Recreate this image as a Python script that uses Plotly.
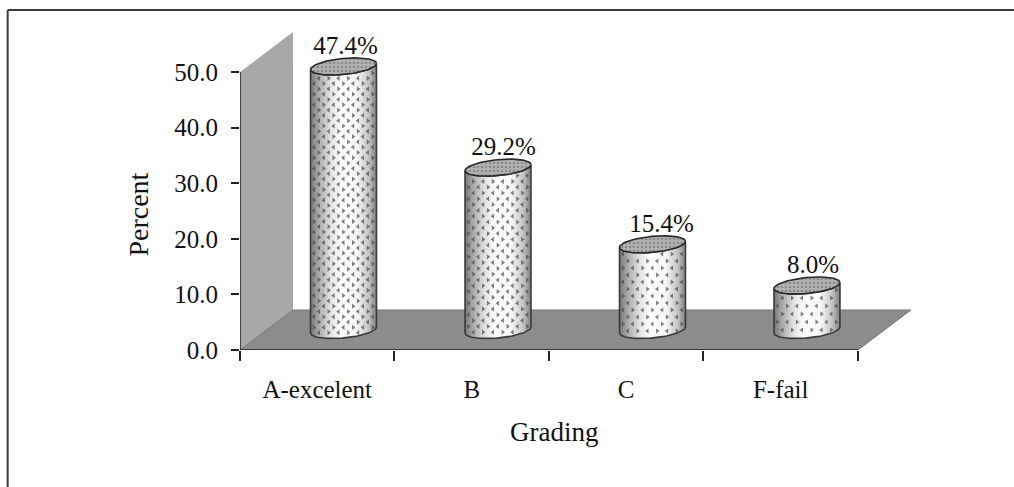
import numpy as np
import plotly.graph_objects as go

categories = ["A-excelent", "B", "C", "F-fail"]
values = [47.4, 29.2, 15.4, 8.0]
labels = ["47.4%", "29.2%", "15.4%", "8.0%"]
y_ticks = [0, 10, 20, 30, 40, 50]
y_tick_labels = ["0.0", "10.0", "20.0", "30.0", "40.0", "50.0"]

W, H = 1014, 487
L, R, T, B = 239.5, 915, 25, 350
PX_CAT = 154.6
PX_UNIT = 5.56
x0 = -0.5
x1 = x0 + (R - L) / PX_CAT
y1 = (B - T) / PX_UNIT
depth_x = 53 / PX_CAT
depth_y = 40 / PX_UNIT
xe = len(categories) - 0.5

base = 3.6
shift = 0.17
a = 33 / PX_CAT
b = 8 / PX_UNIT
tilt = 3 / PX_UNIT
FONT = "Liberation Serif"
TEXT = "#111111"

# texture of the cylinder walls: vertical row spacing (px) per cylinder, label nudges (px)
row_px = [5.3, 5.8, 7.0, 8.0]
col_px = 9.8
label_dx_px = [2, 5.5, 9, 6]


def rim(xs, centre_y, cx, lower):
    """y of the upper or lower edge of a tilted ellipse at data x positions."""
    c = np.clip((xs - cx) / a, -1, 1)
    s = np.sqrt(1 - c ** 2)
    return centre_y + tilt * c + (-b * s if lower else b * s)


fig = go.Figure()
t_low = np.linspace(np.pi, 2 * np.pi, 40)
t_all = np.linspace(0, 2 * np.pi, 80)
grad = [[0, "#787878"], [0.12, "#a8a8a8"], [0.3, "#e2e2e2"], [0.47, "#ffffff"], [0.7, "#f8f8f8"],
        [0.88, "#c4c4c4"], [1, "#808080"]]

for i, v in enumerate(values):
    cx = i + shift
    top = base + v
    bx = cx + a * np.cos(t_low)
    by = base + b * np.sin(t_low) + tilt * np.cos(t_low)
    tx = bx[::-1]
    ty = top + b * np.sin(t_low[::-1]) + tilt * np.cos(t_low[::-1])
    sx = np.concatenate([bx, tx, bx[:1]])
    sy = np.concatenate([by, ty, by[:1]])
    fig.add_trace(go.Scatter(x=sx, y=sy, mode="lines", fill="toself",
                             line=dict(color="#3a3a3a", width=1.6),
                             fillgradient=dict(type="horizontal", colorscale=grad),
                             hoverinfo="skip", showlegend=False))

    # staggered little chevrons of the texture, kept inside the wall
    dy = row_px[i] / PX_UNIT
    dx = col_px / PX_CAT
    for symbol, phase in (("triangle-left", 0), ("triangle-right", 1)):
        gx, gy = [], []
        rows = np.arange(base - b, top + b, dy)
        for r, yy in enumerate(rows):
            off = dx / 2 if r % 2 else 0
            cols = np.arange(cx - a + dx * 0.35 + off, cx + a - dx * 0.2, dx)
            for k, xx in enumerate(cols):
                if (r // 2 + k) % 2 != phase:
                    continue
                lo = rim(np.array([xx]), base, cx, True)[0] + 1.5 / PX_UNIT
                hi = rim(np.array([xx]), top, cx, True)[0] - 2.5 / PX_UNIT
                if lo <= yy <= hi:
                    gx.append(xx)
                    gy.append(yy)
        fig.add_trace(go.Scatter(x=gx, y=gy, mode="markers",
                                 marker=dict(symbol=symbol, size=4.5, color="#4a4a4a", opacity=0.7,
                                             line=dict(width=0)),
                                 hoverinfo="skip", showlegend=False))

    ex = cx + a * np.cos(t_all)
    ey = top + b * np.sin(t_all) + tilt * np.cos(t_all)
    fig.add_trace(go.Scatter(x=ex, y=ey, mode="lines", fill="toself", fillcolor="#a9a9a9",
                             fillpattern=dict(shape=".", fgcolor="#666666", bgcolor="#b2b2b2",
                                              size=4, solidity=0.35),
                             line=dict(color="#2a2a2a", width=1.6),
                             hoverinfo="skip", showlegend=False))

fig.add_trace(go.Scatter(x=[i + shift + label_dx_px[i] / PX_CAT for i in range(len(values))],
                         y=[base + v + 19 / PX_UNIT for v in values],
                         mode="text", text=labels, cliponaxis=False,
                         textfont=dict(family=FONT, size=25, color=TEXT),
                         hoverinfo="skip", showlegend=False))

px_x = lambda p: (p - L) / (R - L)
px_y = lambda p: (B - p) / (B - T)

shapes = [
    # frame: top and left edges only, running off the picture
    dict(type="line", xref="paper", yref="paper", x0=px_x(7), x1=px_x(W), y0=px_y(10), y1=px_y(10),
         line=dict(color="#3a3a3a", width=2), layer="below"),
    dict(type="line", xref="paper", yref="paper", x0=px_x(7), x1=px_x(7), y0=px_y(10), y1=px_y(H),
         line=dict(color="#3a3a3a", width=2), layer="below"),
    # back wall
    dict(type="path", layer="below", line=dict(width=0), fillcolor="#a8a8a8",
         path=f"M {x0} 0 L {x0} 50 L {x0 + depth_x} {50 + depth_y} L {x0 + depth_x} {depth_y} Z"),
    # floor
    dict(type="path", layer="below", line=dict(color="#777777", width=1), fillcolor="#8c8c8c",
         path=f"M {x0} 0 L {xe} 0 L {xe + depth_x} {depth_y} L {x0 + depth_x} {depth_y} Z"),
    # axis lines
    dict(type="line", x0=x0, x1=x0, y0=0, y1=50, line=dict(color="#222222", width=1.5), layer="above"),
    dict(type="line", x0=x0, x1=xe, y0=0, y1=0, line=dict(color="#222222", width=1.5), layer="above"),
]

annotations = [
    dict(text="Percent", xref="paper", yref="paper", x=px_x(138), y=px_y(215),
         textangle=-90, showarrow=False, xanchor="center", yanchor="middle",
         font=dict(family=FONT, size=28, color=TEXT)),
    dict(text="Grading", xref="paper", yref="paper", x=px_x(554), y=px_y(432),
         showarrow=False, xanchor="center", yanchor="middle",
         font=dict(family=FONT, size=27, color=TEXT)),
]

fig.update_layout(
    width=W, height=H, autosize=False,
    margin=dict(l=L, r=W - R, t=T, b=H - B, pad=0),
    paper_bgcolor="white", plot_bgcolor="rgba(0,0,0,0)",
    shapes=shapes, annotations=annotations, showlegend=False,
    xaxis=dict(range=[x0, x1], showgrid=False, zeroline=False, showline=False,
               tickmode="array", tickvals=list(range(len(categories))), ticktext=categories,
               ticks="", ticklabelstandoff=22,
               tickfont=dict(family=FONT, size=25, color=TEXT),
               minor=dict(tickmode="array",
                          tickvals=[i - 0.5 for i in range(len(categories) + 1)],
                          ticks="outside", ticklen=10, tickwidth=1.5, tickcolor="#222222", showgrid=False)),
    yaxis=dict(range=[0, y1], showgrid=False, zeroline=False, showline=False,
               tickmode="array", tickvals=y_ticks, ticktext=y_tick_labels,
               ticks="outside", ticklen=8, tickwidth=1.5, tickcolor="#222222",
               ticklabelstandoff=8,
               tickfont=dict(family=FONT, size=25, color=TEXT)),
)

fig.write_html("out.html", config={"displayModeBar": False},
               post_script="document.body.style.margin='0';document.body.style.overflow='hidden';")
